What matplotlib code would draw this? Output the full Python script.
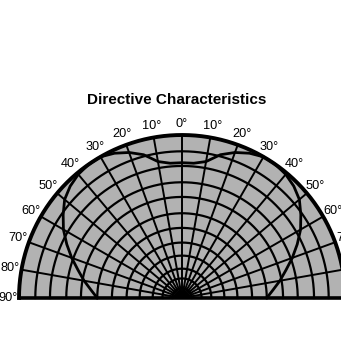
import numpy as np
import matplotlib
matplotlib.use("Agg")
import matplotlib.pyplot as plt

# ---- data ----
title = "Directive Characteristics"
grid_angles = list(range(-90, 91, 10))          # radial grid lines (deg)
ring_levels = [0.06, 0.12, 0.18, 0.26, 0.34, 0.43, 0.52, 0.62, 0.71, 0.81, 0.90]  # inner rings (relative)
label_angles = list(range(-90, 91, 10))
label_texts = [f"{abs(a)}°" for a in label_angles]

curve_angles = [-90, -85, -80, -75, -70, -65, -60, -55, -50, -45, -40, -35, -30, -25, -20, -15, -10, -5,
                0, 5, 10, 15, 20, 25, 30, 35, 40, 45, 50, 55, 60, 65, 70, 75, 80, 85, 90]
curve_values = [0.52, 0.56, 0.61, 0.66, 0.72, 0.78, 0.84, 0.89, 0.94, 0.97, 0.99, 1.0, 1.0, 0.98, 0.95, 0.91, 0.85, 0.83,
                0.83, 0.83, 0.85, 0.91, 0.95, 0.98, 1.0, 1.0, 0.99, 0.97, 0.94, 0.89, 0.84, 0.78, 0.72, 0.66, 0.61, 0.56, 0.52]

# ---- layout ----
W, H = 341, 337
cx, cy, R = 182.0, 298.0, 163.0
fig = plt.figure(figsize=(W / 100, H / 100), dpi=100)
ax = fig.add_axes([0, 0, 1, 1])
ax.set_xlim(-cx / R, (W - cx) / R)
ax.set_ylim(-(H - cy) / R, cy / R)
ax.axis("off")

def pol(r, deg):
    t = np.deg2rad(np.asarray(deg, dtype=float))
    return np.asarray(r) * np.sin(t), np.asarray(r) * np.cos(t)

th = np.linspace(-90, 90, 400)
fx, fy = pol(1.0, th)
ax.fill(np.r_[fx, 0], np.r_[fy, 0], color="#b2b2b2", lw=0, zorder=1)

for r in ring_levels:
    x, y = pol(r, th)
    ax.plot(x, y, color="black", lw=1.6, zorder=2)

for a in grid_angles:
    x, y = pol(np.array([0.0, 1.0]), [a, a])
    ax.plot(x, y, color="black", lw=1.4 if abs(a) != 90 else 2.6, zorder=2,
            solid_capstyle="butt")

x, y = pol(1.0, th)
ax.plot(x, y, color="black", lw=2.8, zorder=3)

cxv, cyv = pol(np.array(curve_values), curve_angles)
ax.plot(cxv, cyv, color="black", lw=2.0, zorder=4)

for a, s in zip(label_angles, label_texts):
    x, y = pol(1.07, a)
    ax.text(x, y, s, ha="center", va="center", fontsize=9.2,
            family="Liberation Sans", zorder=5)

ax.text((177 - cx) / R, (cy - 100) / R, title, ha="center", va="center",
        fontsize=11, fontweight="bold", family="Liberation Sans")

fig.savefig("out.png", dpi=100, facecolor="white")
